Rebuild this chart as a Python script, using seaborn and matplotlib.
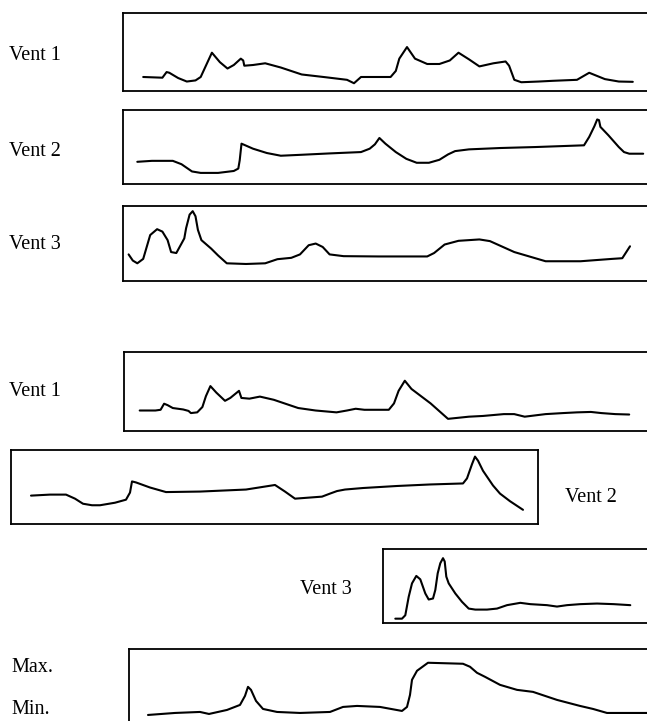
import matplotlib
matplotlib.use("Agg")
import matplotlib.pyplot as plt
import seaborn as sns
import pandas as pd

# ---- traces: time (px from panel start) and level ----
vent1_a_t = [20.2, 39.4, 43.6, 46.3, 55.1, 63.8, 72.5, 77.7, 82.9, 88.9, 96.9, 104.5, 110.8, 117.8,
             120.2, 121.3, 130.0, 142.2, 157.8, 178.7, 203.1, 224.0, 231.0, 238.0, 267.6, 272.8,
             276.3, 284.0, 292.0, 304.2, 316.4, 326.8, 335.5, 346.0, 356.4, 370.4, 382.6, 386.1,
             391.3, 398.3, 415.7, 429.6, 454.0, 466.2, 481.9, 495.8, 509.8]
vent1_a_y = [13.9, 13.2, 18.8, 18.1, 12.9, 9.4, 10.5, 13.9, 25.1, 38.0, 28.6, 22.3, 25.8, 32.1,
             30.3, 25.1, 25.8, 27.5, 23.3, 16.4, 13.6, 11.1, 7.7, 13.9, 13.9, 19.9,
             32.1, 43.6, 32.1, 26.8, 26.8, 30.3, 38.0, 31.4, 24.4, 27.5, 29.3, 25.1,
             11.1, 8.7, 9.4, 10.1, 11.1, 18.1, 11.8, 9.4, 9.1]

vent2_a_t = [14.3, 28.9, 49.8, 58.5, 69.0, 77.7, 95.1, 110.8, 115.3, 116.7, 118.5, 122.3, 130.0,
             143.9, 157.8, 178.7, 206.6, 238.0, 246.7, 251.9, 256.4, 262.4, 272.8, 283.3, 293.7,
             305.9, 316.4, 325.1, 332.1, 346.0, 377.4, 412.2, 461.0, 466.2, 471.4, 474.2, 476.0,
             477.4, 485.4, 495.8, 501.0, 506.3, 520.2]
vent2_a_y = [23.0, 24.0, 24.0, 20.5, 13.0, 11.5, 11.5, 13.5, 16.0, 24.5, 41.8, 40.1, 36.6,
             32.1, 29.3, 30.3, 31.7, 33.1, 36.6, 41.1, 47.7, 41.8, 33.1, 26.1, 22.0,
             22.0, 25.1, 30.7, 34.1, 35.9, 37.3, 38.3, 40.1, 48.8, 59.9, 66.9, 66.2,
             59.2, 50.5, 38.3, 33.1, 31.4, 31.4]

vent3_a_t = [5.6, 9.8, 14.3, 20.2, 23.7, 27.2, 34.1, 39.4, 44.6, 48.1, 53.3, 58.5, 61.3, 63.1,
             66.6, 69.7, 72.5, 74.9, 78.4, 88.2, 95.1, 103.8, 123.0, 142.2, 154.4, 168.3, 177.0,
             185.7, 192.7, 199.7, 206.6, 220.6, 255.4, 304.2, 311.1, 321.6, 335.5, 356.4, 366.9,
             391.3, 422.6, 457.5, 488.9, 499.3, 507.0]
vent3_a_y = [27.2, 20.9, 18.1, 22.6, 34.8, 47.0, 53.0, 50.5, 41.8, 29.6, 28.6, 38.3, 43.6, 54.0,
             67.9, 71.4, 66.2, 52.3, 41.8, 33.1, 26.1, 18.1, 17.4, 18.1, 22.3, 23.7, 27.2,
             36.6, 38.3, 34.8, 27.2, 25.4, 25.1, 25.1, 28.6, 37.3, 41.1, 42.5, 40.8,
             29.6, 20.2, 20.2, 22.6, 23.3, 35.5]

vent1_b_t = [15.7, 31.4, 36.6, 40.1, 43.6, 48.8, 59.2, 64.5, 66.9, 73.2, 78.4, 81.9, 86.4, 92.3,
             101.0, 106.3, 115.0, 117.4, 125.4, 135.9, 149.8, 174.2, 191.6, 212.5, 223.0, 231.7,
             240.4, 264.8, 270.0, 274.6, 280.8, 287.5, 306.6, 324.0, 344.9, 358.9, 379.8, 390.2,
             400.7, 421.6, 439.0, 453.0, 466.9, 477.4, 491.3, 505.2]
vent1_b_y = [19.9, 19.9, 20.6, 26.5, 25.1, 22.3, 20.9, 19.5, 17.4, 18.1, 23.3, 33.8, 43.6, 37.3,
             29.3, 32.1, 39.0, 32.1, 31.4, 33.4, 30.3, 22.3, 19.9, 18.1, 19.9, 21.6,
             20.6, 20.6, 26.8, 39.0, 48.8, 40.8, 26.8, 11.8, 13.9, 14.6, 16.4, 16.4,
             13.9, 16.4, 17.4, 18.1, 18.5, 17.4, 16.4, 16.0]

vent2_b_t = [20, 39, 55, 64, 72, 81, 89, 104, 115, 119, 121, 125, 139, 155, 189, 235, 264, 274,
             284, 311, 319, 326, 334, 352, 386, 419, 452, 456, 461, 464, 467, 472, 482, 489,
             499, 512]
vent2_b_y = [27.5, 28.5, 28.5, 24.5, 19.5, 18, 18, 20.5, 23.5, 30.5, 41.5, 40.5, 35.5, 31,
             31.5, 33.5, 38, 31.5, 24.5, 26.5, 29.5, 32, 33.5, 35, 37, 38.5, 39.5, 44.5,
             58.5, 66, 62, 52, 37.5, 29.5, 22, 13.5]

vent3_b_t = [12.3, 19.0, 22.3, 25.7, 29.0, 33.3, 37.3, 42.3, 45.7, 50.0, 52.3, 54.7, 57.3, 60.0,
             61.7, 63.3, 65.7, 72.3, 79.0, 85.7, 92.3, 104.0, 114.0, 124.0, 137.3, 147.3, 164.0,
             174.0, 184.0, 197.3, 214.0, 230.7, 247.3]
vent3_b_y = [4.3, 4.3, 7.7, 26.0, 39.3, 46.7, 43.3, 29.3, 23.3, 24.3, 32.7, 49.3, 59.3, 64.3,
             61.0, 46.0, 39.3, 29.3, 21.0, 14.3, 13.3, 13.3, 14.3, 17.7, 20.0, 18.7, 17.7,
             16.3, 17.7, 18.7, 19.3, 18.7, 17.7]

range_t = [19, 46, 71, 80, 98, 111, 116, 119, 122, 127, 134, 148, 171, 201, 214, 228, 251, 273,
           278, 281, 283, 288, 299, 334, 341, 348, 356, 371, 388, 404, 428, 451, 464, 478, 531]
range_y = [9, 11, 12, 10, 14, 19, 28, 37, 34, 23, 15, 12, 11, 12, 17, 18, 17, 13,
           17, 29, 44, 53, 61, 60, 57, 51, 47, 39, 34, 32, 24, 18, 15, 11, 11]

W, H = 647, 721

sns.set_style("white")
plt.rcParams["font.family"] = ["Liberation Serif", "DejaVu Serif"]

fig = plt.figure(figsize=(W / 100, H / 100), dpi=100)


def add_panel(box, t, y, ymax):
    """box = (left, top, right, bottom) in pixels"""
    left, top, right, bottom = box
    ax = fig.add_axes([left / W, 1 - bottom / H, (right - left) / W, (bottom - top) / H])
    df = pd.DataFrame({"t": t, "level": y})
    sns.lineplot(data=df, x="t", y="level", ax=ax, color="black", linewidth=1.5,
                 sort=False, estimator=None)
    ax.set_xlim(0, right - left)
    ax.set_ylim(0, ymax)
    ax.set_xticks([])
    ax.set_yticks([])
    ax.set_xlabel("")
    ax.set_ylabel("")
    for s in ax.spines.values():
        s.set_visible(True)
        s.set_color("black")
        s.set_linewidth(1.3)
    return ax


add_panel((123, 13, 660, 91), vent1_a_t, vent1_a_y, 77.4)
add_panel((123, 110, 660, 184), vent2_a_t, vent2_a_y, 76.7)
add_panel((123, 206, 660, 281), vent3_a_t, vent3_a_y, 76.7)
add_panel((124, 352, 660, 431), vent1_b_t, vent1_b_y, 76.7)
add_panel((11, 450, 538, 523.5), vent2_b_t, vent2_b_y, 72.5)
add_panel((383, 549, 660, 623), vent3_b_t, vent3_b_y, 73.4)
add_panel((129, 649, 660, 724), range_t, range_y, 74.7)


def label(x, y, s, ha="left"):
    fig.text(x / W, 1 - y / H, s, ha=ha, va="center", fontsize=14.5, color="black")


label(9, 55, "Vent 1")
label(9, 152, "Vent 2")
label(9, 244, "Vent 3")
label(9, 392, "Vent 1")
label(565, 497, "Vent 2")
label(300, 590, "Vent 3")
label(11, 668, "Max.")
label(11, 709, "Min.")

fig.savefig("out.png", dpi=100)
